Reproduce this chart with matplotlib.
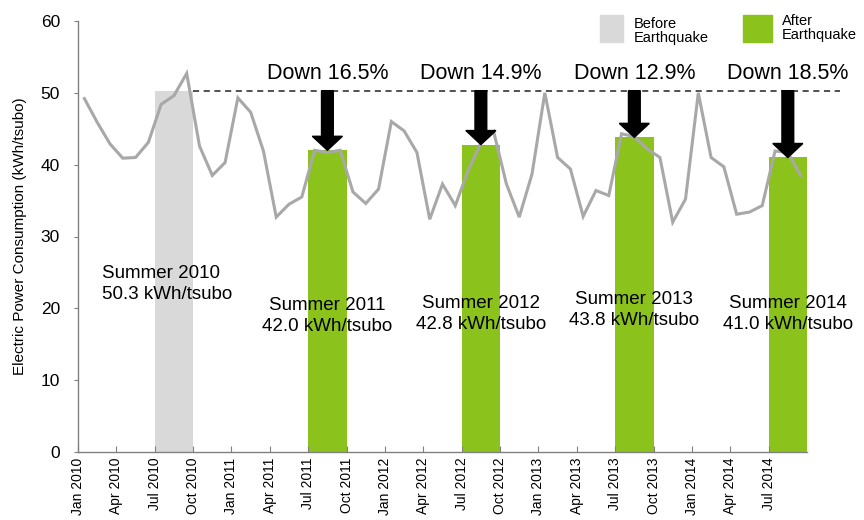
import matplotlib
matplotlib.use("Agg")
import matplotlib.pyplot as plt
from matplotlib.patches import FancyArrow, Rectangle
import numpy as np

plt.rcParams['font.family'] = ['Liberation Sans', 'DejaVu Sans']

# Monthly consumption, Jan 2010 .. Sep 2014 (kWh/tsubo)
monthly_values = [
    49.2, 45.9, 42.9, 40.9, 41.0, 43.1, 48.4, 49.6, 52.7, 42.6, 38.5, 40.3,   # 2010
    49.3, 47.3, 41.9, 32.7, 34.5, 35.5, 42.0, 41.7, 42.0, 36.2, 34.6, 36.6,   # 2011
    46.0, 44.7, 41.7, 32.4, 37.3, 34.3, 39.2, 43.0, 44.6, 37.3, 32.7, 38.7,   # 2012
    50.0, 41.0, 39.4, 32.8, 36.4, 35.7, 44.3, 43.9, 42.2, 41.0, 32.0, 35.2,   # 2013
    50.0, 41.0, 39.7, 33.1, 33.4, 34.3, 41.9, 41.7, 38.5,                     # 2014
]
tick_labels = ["Jan 2010", "Apr 2010", "Jul 2010", "Oct 2010",
               "Jan 2011", "Apr 2011", "Jul 2011", "Oct 2011",
               "Jan 2012", "Apr 2012", "Jul 2012", "Oct 2012",
               "Jan 2013", "Apr 2013", "Jul 2013", "Oct 2013",
               "Jan 2014", "Apr 2014", "Jul 2014"]
summer_years = ["2010", "2011", "2012", "2013", "2014"]
summer_start_month = [6, 18, 30, 42, 54]          # month index of July
summer_values = [50.3, 42.0, 42.8, 43.8, 41.0]
summer_after = [False, True, True, True, True]
down_pct = [None, "16.5%", "14.9%", "12.9%", "18.5%"]
baseline = 50.3
label_y = [23.4, 18.9, 19.2, 19.8, 19.2]

GRAY_BAR = '#d9d9d9'
GREEN = '#8cc21c'
LINE = '#a8a8a8'

fig = plt.figure(figsize=(8.64, 5.2), dpi=100)
ax = fig.add_axes([78/864, 68/520, (807-78)/864, (452-21)/520])

n = len(monthly_values)
x = np.arange(n) + 0.5

# summer bars
for s, v, after in zip(summer_start_month, summer_values, summer_after):
    ax.bar(s, v, width=3, align='edge', color=GREEN if after else GRAY_BAR,
           edgecolor='none', zorder=1)

# monthly line
ax.plot(x, monthly_values, color=LINE, lw=2.2, zorder=2, solid_joinstyle='miter')

# dashed baseline
ax.plot([summer_start_month[0] + 3, 59.6], [baseline, baseline], ls=(0, (4, 3)),
        color='#222222', lw=1.1, clip_on=False, zorder=3)

# arrows and labels
for i, (yr, s, v, after, pct, ly) in enumerate(zip(summer_years, summer_start_month,
                                                   summer_values, summer_after,
                                                   down_pct, label_y)):
    cx = s + 1.5
    txt = "Summer " + yr + "\n" + f"{v:.1f} kWh/tsubo"
    if after:
        arr = FancyArrow(cx, baseline, 0, v - baseline, width=0.92, head_width=2.35,
                         head_length=1.95, length_includes_head=True,
                         color='black', zorder=4)
        ax.add_patch(arr)
        ax.text(cx, 52.7, "Down " + pct, ha='center', va='center', fontsize=15.5,
                zorder=5)
        ax.text(cx, ly, txt, ha='center', va='center', fontsize=13.5,
                linespacing=1.3, zorder=5)
    else:
        ax.text(1.9, ly, txt, ha='left', va='center', fontsize=13.5,
                linespacing=1.3, zorder=5)

ax.set_xlim(0, n)
ax.set_ylim(0, 60)
ax.set_yticks(range(0, 61, 10))
ax.set_xticks(np.arange(0, n, 3))
ax.set_xticklabels(tick_labels, rotation=90, fontsize=10, va='top')
ax.tick_params(axis='y', labelsize=12.5, direction='out', length=3, color='#808080',
               pad=10)
ax.tick_params(axis='x', direction='in', length=4, color='#808080', pad=4)
for side in ['top', 'right']:
    ax.spines[side].set_visible(False)
for side in ['left', 'bottom']:
    ax.spines[side].set_color('#808080')
    ax.spines[side].set_linewidth(1)
ax.set_ylabel("Electric Power Consumption (kWh/tsubo)", fontsize=11, labelpad=10)

# legend (figure coordinates)
fig.patches.append(Rectangle((600/864, 1 - 42/520), 23/864, 27/520,
                             transform=fig.transFigure, color=GRAY_BAR))
fig.patches.append(Rectangle((743/864, 1 - 42/520), 29/864, 27/520,
                             transform=fig.transFigure, color=GREEN))
fig.text(634/864, 1 - 31/520, "Before\nEarthquake", fontsize=10.5, va='center',
         ha='left', linespacing=1.05)
fig.text(782/864, 1 - 28/520, "After\nEarthquake", fontsize=10.5, va='center',
         ha='left', linespacing=1.05)

fig.savefig("out.png", dpi=100)
